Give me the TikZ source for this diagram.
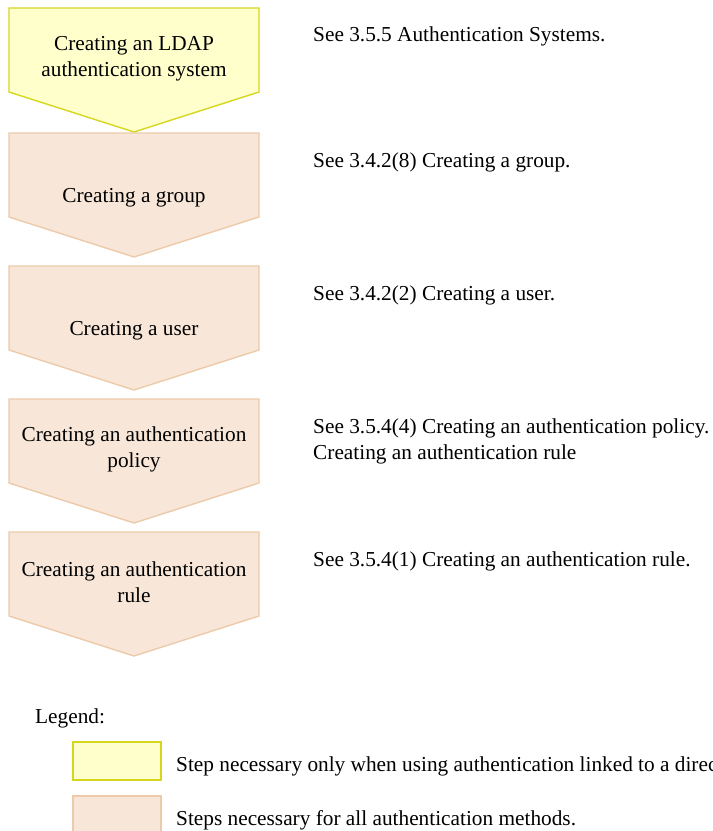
\documentclass[tikz,border=0pt]{standalone}
\usepackage{fontspec}
\setmainfont{Liberation Serif}
\usepackage{tikz}
\usetikzlibrary{positioning}
\usepackage{xcolor}
\definecolor{ldapfill}{RGB}{255,255,204}
\definecolor{ldapedge}{RGB}{214,214,30}
\definecolor{stepfill}{RGB}{248,231,216}
\definecolor{stepedge}{RGB}{236,202,170}

\tikzset{
  txt/.style={font=\fontsize{21.3}{26}\selectfont, inner sep=0pt},
  ldap box/.style={fill=ldapfill, draw=ldapedge, line width=1.4pt},
  step box/.style={fill=stepfill, draw=stepedge, line width=1.4pt},
}

\begin{document}
\begin{tikzpicture}[x=1pt,y=-1pt]
\useasboundingbox (0,0) rectangle (713,831);

% Step arrows
\foreach \t/\c in {8/ldap, 133/step, 266/step, 399/step, 532/step} {
    \filldraw[\c\space box] (9,\t) -- (259,\t) -- (259,\t+84) -- (134,\t+124) -- (9,\t+84) -- cycle;
}

% Step labels
\node[txt, align=center] (ldap) at (134,59) {Creating an LDAP\\authentication system};
\node[txt, anchor=base] (group) at (134,202) {Creating a group};
\node[txt, anchor=base] (user) at (134,335) {Creating a user};
\node[txt, align=center] (policy) at (134,449) {Creating an authentication\\policy};
\node[txt, align=center] (rule) at (134,582) {Creating an authentication\\rule};

% References
\node[txt, anchor=base west] (seeldap) at (313,41) {See 3.5.5 Authentication Systems.};
\node[txt, anchor=base west] (seegroup) at (313,167) {See 3.4.2(8) Creating a group.};
\node[txt, anchor=base west] (seeuser) at (313,300) {See 3.4.2(2) Creating a user.};
\node[txt, anchor=base west] (seepolicy) at (313,433) {See 3.5.4(4) Creating an authentication policy.};
\node[txt, anchor=base west] (seepolicy2) at (313,459) {Creating an authentication rule};
\node[txt, anchor=base west] (seerule) at (313,566) {See 3.5.4(1) Creating an authentication rule.};

% Legend
\node[txt, anchor=base west] (legend) at (35,723) {Legend:};
\filldraw[ldap box] (73,742) rectangle (161,780);
\node[txt, anchor=base west] (legldap) at (176,771) {Step necessary only when using authentication linked to a directory server.};
\filldraw[step box] (73,796) rectangle (161,836);
\node[txt, anchor=base west] (legstep) at (176,825) {Steps necessary for all authentication methods.};
\end{tikzpicture}
\end{document}
